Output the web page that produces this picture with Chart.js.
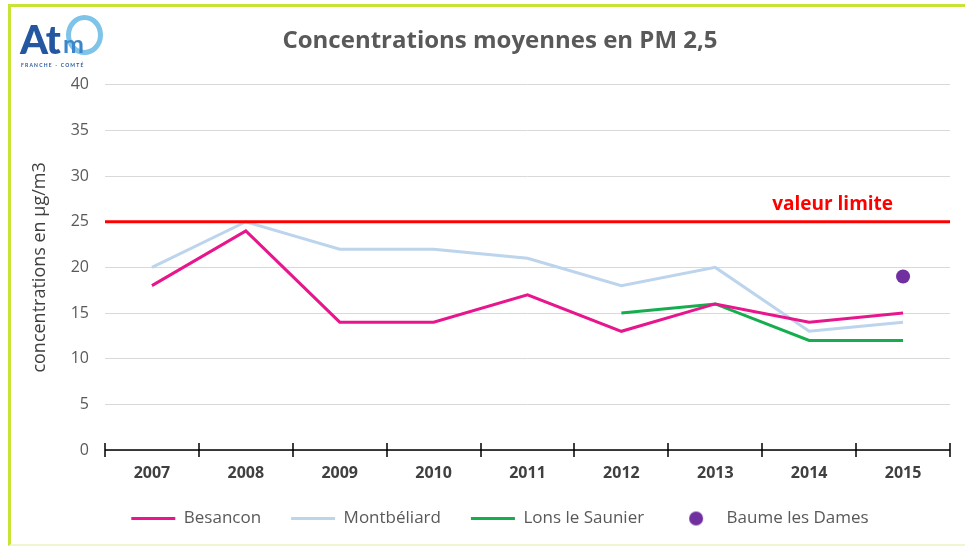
<!DOCTYPE html>
<html lang="fr">
<head>
<meta charset="utf-8">
<title>Concentrations moyennes en PM 2,5</title>
<script src="https://cdn.jsdelivr.net/npm/chart.js@4.4.1/dist/chart.umd.min.js"></script>
<style>
    html, body { margin: 0; padding: 0; background: #fff; }
    #cadre {
        position: relative;
        width: 965px;
        height: 548px;
        overflow: hidden;
    }
    #cadre:before {
        content: '';
        position: absolute;
        left: 8px; top: 4px; right: -10px; bottom: 2px;
        border-top: 3px solid #c9e236;
        border-left: 3px solid #c9e236;
        border-bottom: 2px solid #eef7d2;
    }
    #pm25 { position: absolute; left: 0; top: 0; }
    #logo {
        position: absolute;
        left: 20px; top: 14px;
        width: 90px; height: 56px;
        font-family: Lato, sans-serif;
    }
    #logo .at {
        position: absolute; left: 0; top: 5px;
        font-size: 40px; font-weight: 900; color: #2457a0;
        letter-spacing: -1px; line-height: 40px;
    }
    #logo .o {
        position: absolute; left: 46px; top: 1px;
        width: 27px; height: 30px;
        border: 5px solid #7ec3e8; border-radius: 50%;
    }
    #logo .m {
        position: absolute; left: 43px; top: 17px;
        font-size: 25px; font-weight: 700; color: #3b86c8; line-height: 25px;
    }
    #logo .fc {
        position: absolute; left: 1px; top: 48px;
        font-size: 5px; letter-spacing: 1.2px; color: #2457a0; font-weight: 700;
        white-space: nowrap;
    }
</style>
</head>
<body>
<div id="cadre">
    <canvas id="pm25" width="965" height="548"></canvas>
    <div id="logo">
        <span class="at">At</span><span class="o"></span><span class="m">m</span>
        <div class="fc">FRANCHE - COMTÉ</div>
    </div>
</div>
<script>
const annees = ['2007', '2008', '2009', '2010', '2011', '2012', '2013', '2014', '2015'];
const besancon = [18, 24, 14, 14, 17, 13, 16, 14, 15];
const montbeliard = [20, 25, 22, 22, 21, 18, 20, 13, 14];
const lonsLeSaunier = [null, null, null, null, null, 15, 16, 12, 12];
const baumeLesDames = [null, null, null, null, null, null, null, null, 19];
const valeurLimite = 25;
const yTicks = [0, 5, 10, 15, 20, 25, 30, 35, 40];

const police = '"Open Sans", sans-serif';
const gris = '#595959';

// small purple disc used as the legend swatch for the single-point series
function pastille(couleur) {
    const c = document.createElement('canvas');
    c.width = 16; c.height = 16;
    const g = c.getContext('2d');
    g.fillStyle = couleur;
    g.beginPath();
    g.arc(8, 8, 7, 0, Math.PI * 2);
    g.fill();
    return c;
}

// red threshold line across the whole plot, with its label
const limitePlugin = {
    id: 'limite',
    afterDatasetsDraw(chart) {
        const { ctx, chartArea, scales } = chart;
        const y = scales.y.getPixelForValue(valeurLimite);
        ctx.save();
        ctx.strokeStyle = '#ff0000';
        ctx.lineWidth = 3;
        ctx.beginPath();
        ctx.moveTo(chartArea.left, y);
        ctx.lineTo(chartArea.right, y);
        ctx.stroke();
        ctx.fillStyle = '#ff0000';
        ctx.font = 'bold 19px ' + police;
        ctx.textAlign = 'center';
        ctx.textBaseline = 'alphabetic';
        ctx.fillText('valeur limite', scales.x.getPixelForValue(7.25), y - 12);
        ctx.restore();
    }
};

// tick marks crossing the x axis at the category boundaries
const graduationsPlugin = {
    id: 'graduations',
    afterDraw(chart) {
        const { ctx, scales } = chart;
        const x = scales.x;
        const y0 = scales.y.getPixelForValue(0);
        const demi = (x.getPixelForValue(1) - x.getPixelForValue(0)) / 2;
        ctx.save();
        ctx.strokeStyle = '#000';
        ctx.lineWidth = 1.5;
        ctx.beginPath();
        ctx.moveTo(x.left, y0);
        ctx.lineTo(x.right, y0);
        for (let i = 0; i <= annees.length; i++) {
            const px = Math.round(x.getPixelForValue(i) - demi);
            ctx.moveTo(px, y0 - 7);
            ctx.lineTo(px, y0 + 7);
        }
        ctx.stroke();
        ctx.restore();
    }
};

new Chart(document.getElementById('pm25'), {
    type: 'line',
    data: {
        labels: annees,
        datasets: [{
            label: 'Besancon',
            data: besancon,
            borderColor: '#e8168c',
            backgroundColor: '#e8168c',
            borderWidth: 3,
            pointRadius: 0,
            tension: 0
        }, {
            label: 'Montbéliard',
            data: montbeliard,
            borderColor: '#bcd4ec',
            backgroundColor: '#bcd4ec',
            borderWidth: 3,
            pointRadius: 0,
            tension: 0
        }, {
            label: 'Lons le Saunier',
            data: lonsLeSaunier,
            borderColor: '#16ad4f',
            backgroundColor: '#16ad4f',
            borderWidth: 3,
            pointRadius: 0,
            tension: 0
        }, {
            label: 'Baume les Dames',
            data: baumeLesDames,
            showLine: false,
            borderColor: '#7030a0',
            backgroundColor: '#7030a0',
            pointRadius: 7,
            pointBorderWidth: 0
        }]
    },
    options: {
        responsive: false,
        animation: false,
        layout: { padding: { top: 24, left: 50, right: 15, bottom: 11 } },
        plugins: {
            tooltip: { enabled: false },
            title: {
                display: true,
                text: 'Concentrations moyennes en PM 2,5',
                color: gris,
                font: { family: police, size: 24, weight: 'bold', lineHeight: 1.2 },
                padding: { top: 3, bottom: 29 }
            },
            legend: {
                position: 'bottom',
                labels: {
                    color: gris,
                    font: { family: police, size: 17, lineHeight: 0.8 },
                    usePointStyle: true,
                    pointStyleWidth: 44,
                    boxHeight: 12,
                    padding: 30,
                    generateLabels(chart) {
                        return chart.data.datasets.map((ds, i) => ({
                            text: ds.label,
                            datasetIndex: i,
                            fillStyle: ds.backgroundColor,
                            strokeStyle: ds.borderColor,
                            lineWidth: 3,
                            pointStyle: ds.showLine === false ? pastille(ds.backgroundColor) : 'line',
                            fontColor: gris,
                            hidden: !chart.isDatasetVisible(i)
                        }));
                    }
                }
            }
        },
        scales: {
            x: {
                offset: true,
                grid: { display: false, drawTicks: false },
                border: { display: false },
                ticks: {
                    color: '#404040',
                    font: { family: police, size: 16, weight: 'bold', lineHeight: 0.6 },
                    padding: 19
                },
                afterFit(scale) { scale.height = 30; }
            },
            y: {
                min: 0,
                max: 40,
                afterBuildTicks(scale) { scale.ticks = yTicks.map(v => ({ value: v })); },
                grid: { color: '#d9d9d9', lineWidth: 1, drawTicks: false },
                border: { display: false },
                ticks: {
                    color: gris,
                    font: { family: police, size: 16 },
                    padding: 16
                },
                title: {
                    display: true,
                    text: 'concentrations en µg/m3',
                    color: '#404040',
                    font: { family: police, size: 18 },
                    padding: { top: -21, bottom: 0 }
                },
                afterFit(scale) { scale.width = 55; }
            }
        }
    },
    plugins: [limitePlugin, graduationsPlugin]
});
</script>
</body>
</html>
